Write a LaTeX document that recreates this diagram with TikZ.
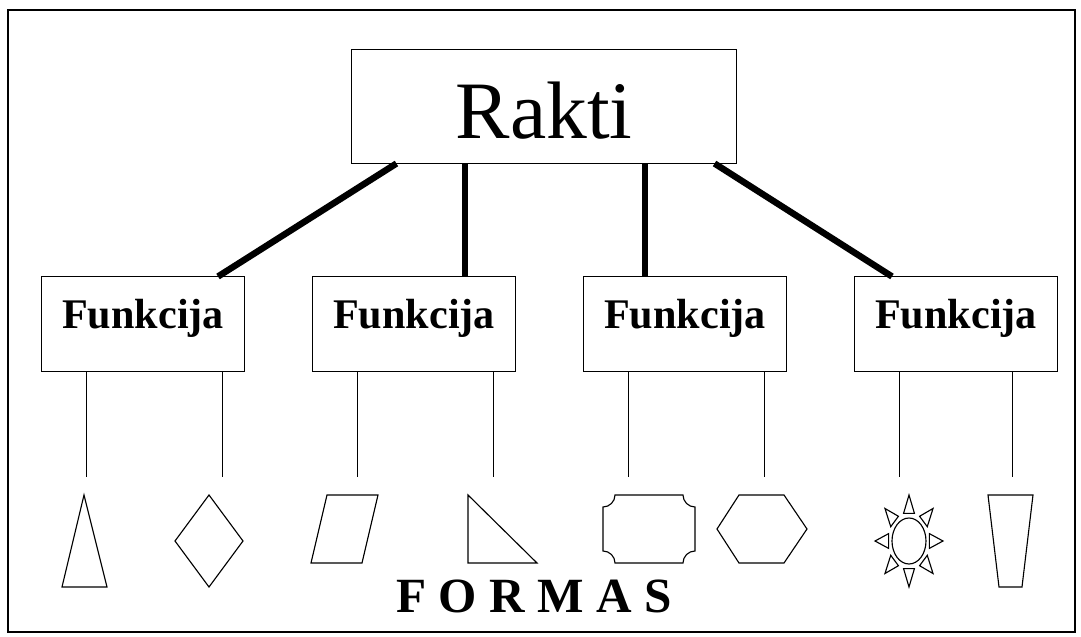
\documentclass[tikz,border=0pt]{standalone}
\usepackage{fontspec}
\setmainfont{Liberation Serif}
\usetikzlibrary{calc}
\tikzset{
  rbox/.style={draw,line width=0.7pt,inner sep=0pt,minimum width=9.6cm,
    text height=2.2cm,text depth=0.625cm,font=\fontsize{58}{64}\selectfont},
  fbox/.style={draw,line width=0.7pt,inner sep=0pt,minimum width=5.075cm,
    text height=1.275cm,text depth=1.075cm,font=\fontsize{30}{36}\selectfont\bfseries},
  link/.style={line width=4.6pt},
  leg/.style={line width=0.7pt},
  forma/.style={line width=0.8pt,line join=miter}
}

\begin{document}
\begin{tikzpicture}[x=0.025cm,y=-0.025cm]
                \useasboundingbox (0,0) rectangle (1081,637);
                \draw[line width=0.8pt] (8,10) rectangle (1075,632);
                \node[rbox] (rakti) at (544,106.5) {Rakti};
                \node[fbox] (f1) at (143,324) {Funkcija};
                \node[fbox] (f2) at (414,324) {Funkcija};
                \node[fbox] (f3) at (685,324) {Funkcija};
                \node[fbox] (f4) at (956,324) {Funkcija};
                \draw[link] ($(rakti.south west)+(45,0)$) -- ($(f1.north east)+(-27,0)$);
                \draw[link] ($(f2.north east)+(-51,0)$) coordinate (t2) -- (t2 |- rakti.south);
                \draw[link] ($(f3.north west)+(62,0)$) coordinate (t3) -- (t3 |- rakti.south);
                \draw[link] ($(rakti.south east)+(-22,0)$) -- ($(f4.north west)+(38,0)$);
                % legs down to the shapes
                \foreach \n/\x in {1/86,2/222,3/357,4/493,5/628,6/764,7/899,8/1012}
                    \coordinate (s\n) at (\x,477);
                \foreach \f/\a/\b in {f1/1/2,f2/3/4,f3/5/6,f4/7/8}{
                    \draw[leg] (\f.south -| s\a) -- (s\a);
                    \draw[leg] (\f.south -| s\b) -- (s\b);
                }
                % shapes
                \draw[forma] (84,495) -- (107,587) -- (62,587) -- cycle;
                \draw[forma] (209,495) -- (243,541) -- (209,587) -- (175,541) -- cycle;
                \draw[forma] (327,495) -- (378,495) -- (362,563) -- (311,563) -- cycle;
                \draw[forma] (468,495) -- (537,563) -- (468,563) -- cycle;
                \draw[forma] (615,495) -- (683,495) .. controls (683,501.6) and (688.4,507) .. (695,507)
                    -- (695,551) .. controls (688.4,551) and (683,556.4) .. (683,563)
                    -- (615,563) .. controls (615,556.4) and (609.6,551) .. (603,551)
                    -- (603,507) .. controls (609.6,507) and (615,501.6) .. (615,495) -- cycle;
                \draw[forma] (739,495) -- (784,495) -- (807,529) -- (784,563) -- (739,563) -- (717,529) -- cycle;
                \draw[forma] (909,541) ellipse[x radius=17,y radius=23];
                \foreach \a in {0,45,...,315}
                    \draw[forma] ({909+34*cos(\a)},{541+46*sin(\a)})
                        -- ({909+34*(0.6*cos(\a)-0.16*sin(\a))},{541+46*(0.6*sin(\a)+0.16*cos(\a))})
                        -- ({909+34*(0.6*cos(\a)+0.16*sin(\a))},{541+46*(0.6*sin(\a)-0.16*cos(\a))}) -- cycle;
                \draw[forma] (988,495) -- (1033,495) -- (1022,587) -- (999,587) -- cycle;
                \node[font=\fontsize{35}{40}\selectfont\bfseries,anchor=base,inner sep=0pt] (formas) at (534,612) {F O R M A S};
            \end{tikzpicture}
\end{document}
